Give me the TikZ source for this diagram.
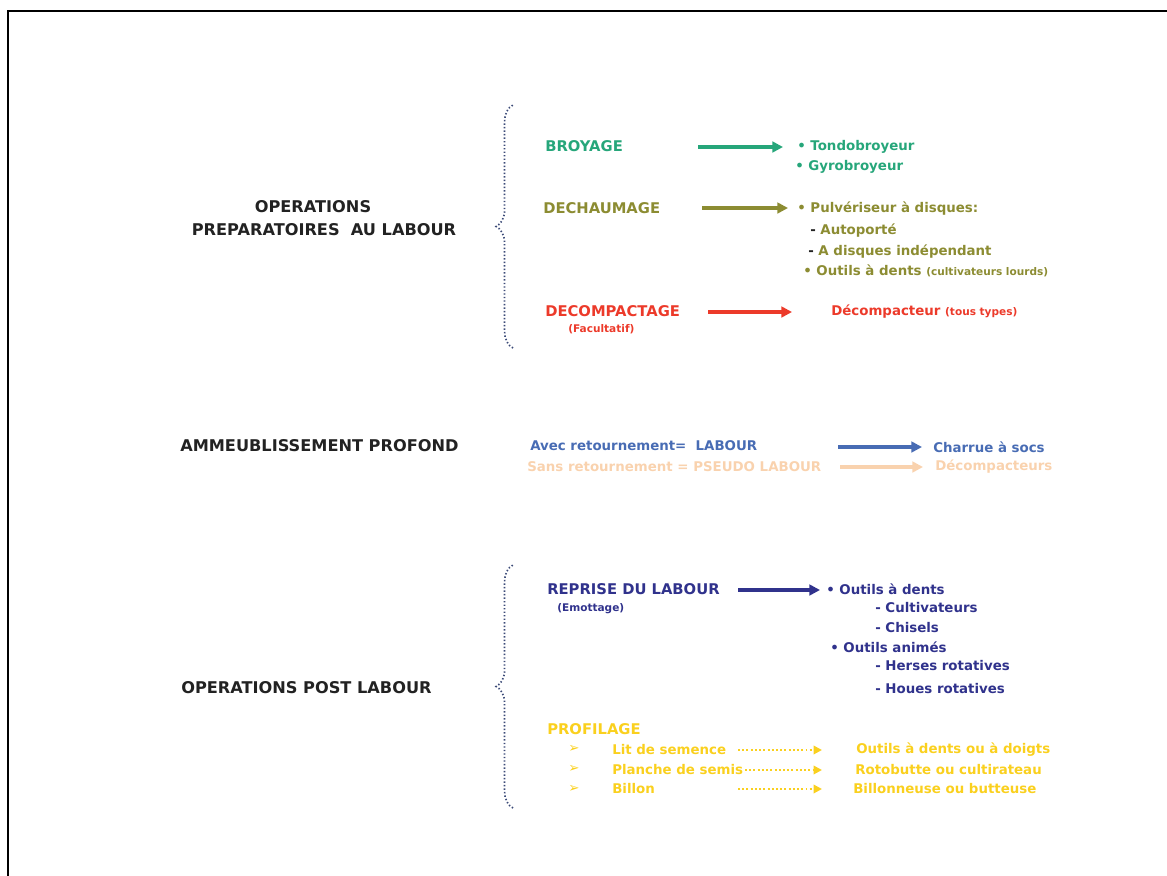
\documentclass[tikz,border=0pt]{standalone}
\usepackage{fontspec}
\setmainfont{DejaVu Sans}
\usetikzlibrary{arrows.meta, positioning, decorations.pathreplacing}
\definecolor{titlegray}{RGB}{34,34,34}
\definecolor{broyagegreen}{RGB}{38,166,122}
\definecolor{dechaumolive}{RGB}{140,140,50}
\definecolor{decompred}{RGB}{236,58,42}
\definecolor{labourblue}{RGB}{72,108,180}
\definecolor{pseudopeach}{RGB}{249,210,174}
\definecolor{reprisenavy}{RGB}{48,50,140}
\definecolor{profilyellow}{RGB}{250,208,30}
\definecolor{bracenavy}{RGB}{60,75,120}
\tikzset{
  bigtitle/.style={font=\fontsize{11.5}{13}\selectfont\bfseries, text=titlegray, inner sep=0pt},
  head/.style={font=\fontsize{10.5}{12}\selectfont\bfseries, inner sep=0pt, anchor=west},
  item/.style={font=\fontsize{9.5}{11}\selectfont\bfseries, inner sep=0pt, anchor=west},
  note/.style={font=\fontsize{7.5}{9}\selectfont\bfseries, inner sep=0pt, anchor=west},
  flow/.style={line width=2.3pt, -{Triangle[length=7.5pt,width=7.5pt]}},
  dotflow/.style={line width=1.5pt, dash pattern=on 1.4pt off 1.6pt, -{Triangle[length=6pt,width=6pt]}},
  dotbrace/.style={bracenavy, line width=1.2pt, dash pattern=on 1pt off 1.5pt, decorate, decoration={brace, amplitude=12pt}}
}
\begin{document}
\begin{tikzpicture}[x=0.025cm, y=-0.025cm]
    \useasboundingbox (0,0) rectangle (1167,876);

    % Frame
    \draw[line width=2.1pt] (8,876) -- (8,11) -- (1167,11);

    % Operations preparatoires
    \node[bigtitle] (ops1) at (313,207) {OPERATIONS};
    \node[bigtitle] (ops2) at (324,230) {PREPARATOIRES\ \ AU LABOUR};
    \coordinate (b1top) at (513,105);
    \coordinate (b1bot) at (513,348);
    \draw[dotbrace] (b1bot) -- (b1top);

    \node[head, text=broyagegreen] (broyage) at (545,146) {BROYAGE};
    \node[item, text=broyagegreen] (tondo) at (797,147) {• Tondobroyeur};
    \node[item, text=broyagegreen] (gyro) at (795,167) {• Gyrobroyeur};
    \coordinate (a1s) at (698,147);
    \coordinate (a1e) at (783,147);
    \draw[flow, broyagegreen] (a1s) -- (a1e);

    \node[head, text=dechaumolive] (dechaum) at (543,208) {DECHAUMAGE};
    \node[item, text=dechaumolive] (pulve) at (797,209) {• Pulvériseur à disques:};
    \node[item, text=dechaumolive] (autop) at (810,231) {\textcolor{titlegray}{-} Autoporté};
    \node[item, text=dechaumolive] (indep) at (808,252) {\textcolor{titlegray}{-} A disques indépendant};
    \node[item, text=dechaumolive] (dents1) at (803,271) {• Outils à dents {\fontsize{7.5}{9}\selectfont (cultivateurs lourds)}};
    \coordinate (a2s) at (702,208);
    \coordinate (a2e) at (788,208);
    \draw[flow, dechaumolive] (a2s) -- (a2e);

    \node[head, text=decompred] (decomp) at (545,311) {DECOMPACTAGE};
    \node[note, text=decompred] (facult) at (568,329) {(Facultatif)};
    \node[item, text=decompred] (decompacteur) at (831,312) {Décompacteur {\fontsize{7.5}{9}\selectfont (tous types)}};
    \coordinate (a3s) at (708,312);
    \coordinate (a3e) at (792,312);
    \draw[flow, decompred] (a3s) -- (a3e);

    % Ameublissement profond
    \node[bigtitle, anchor=west] (ammeub) at (180,446) {AMMEUBLISSEMENT PROFOND};
    \node[item, text=labourblue] (avec) at (530,446) {Avec retournement=\ \ LABOUR};
    \node[item, text=labourblue] (charrue) at (933,447) {Charrue à socs};
    \coordinate (a4s) at (838,447);
    \coordinate (a4e) at (922,447);
    \draw[flow, labourblue] (a4s) -- (a4e);
    \node[item, text=pseudopeach] (sans) at (527,467) {Sans retournement = PSEUDO LABOUR};
    \node[item, text=pseudopeach] (decompacteurs) at (935,467) {Décompacteurs};
    \coordinate (a5s) at (840,467);
    \coordinate (a5e) at (923,467);
    \draw[flow, pseudopeach] (a5s) -- (a5e);

    % Operations post labour
    \node[bigtitle, anchor=west] (postlab) at (181,688) {OPERATIONS POST LABOUR};
    \coordinate (b2top) at (513,565);
    \coordinate (b2bot) at (513,808);
    \draw[dotbrace] (b2bot) -- (b2top);

    \node[head, text=reprisenavy] (reprise) at (547,589) {REPRISE DU LABOUR};
    \node[note, text=reprisenavy] (emottage) at (557,609) {(Emottage)};
    \node[item, text=reprisenavy] (odents) at (826,589) {• Outils à dents};
    \node[item, text=reprisenavy] (cultiv) at (875,608) {-\ Cultivateurs};
    \node[item, text=reprisenavy] (chisels) at (875,628) {- Chisels};
    \node[item, text=reprisenavy] (animes) at (830,647) {• Outils animés};
    \node[item, text=reprisenavy] (herses) at (875,666) {- Herses rotatives};
    \node[item, text=reprisenavy] (houes) at (875,689) {- Houes rotatives};
    \coordinate (a6s) at (738,590);
    \coordinate (a6e) at (820,590);
    \draw[flow, reprisenavy] (a6s) -- (a6e);

    \node[head, text=profilyellow] (profilage) at (547,729) {PROFILAGE};
    \node[item, text=profilyellow] (bul1) at (568,749) {➢};
    \node[item, text=profilyellow] (bul2) at (568,769) {➢};
    \node[item, text=profilyellow] (bul3) at (568,789) {➢};
    \node[item, text=profilyellow] (lit) at (612,750) {Lit de semence};
    \node[item, text=profilyellow] (planche) at (612,770) {Planche de semis};
    \node[item, text=profilyellow] (billon) at (612,789) {Billon};
    \node[item, text=profilyellow] (doigts) at (856,750) {Outils à dents ou à doigts};
    \node[item, text=profilyellow] (roto) at (855,770) {Rotobutte ou cultirateau};
    \node[item, text=profilyellow] (butteuse) at (853,789) {Billonneuse ou butteuse};
    \coordinate (d1s) at (738,750);
    \coordinate (d1e) at (822,750);
    \coordinate (d2s) at (745,770);
    \coordinate (d2e) at (822,770);
    \coordinate (d3s) at (738,789);
    \coordinate (d3e) at (822,789);
    \draw[dotflow, profilyellow] (d1s) -- (d1e);
    \draw[dotflow, profilyellow] (d2s) -- (d2e);
    \draw[dotflow, profilyellow] (d3s) -- (d3e);
\end{tikzpicture}
\end{document}
